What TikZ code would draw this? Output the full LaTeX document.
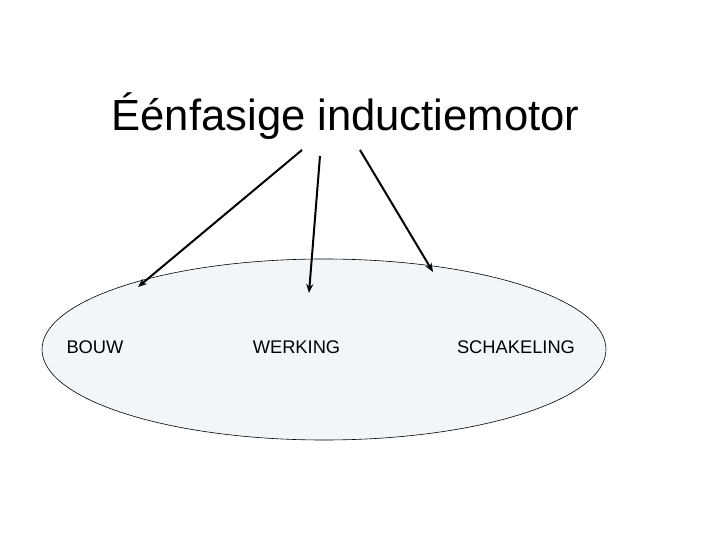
\documentclass[tikz,border=0pt]{standalone}
\usepackage{fontspec}
\setmainfont{Liberation Sans}
\usetikzlibrary{shapes.geometric,arrows.meta}
\definecolor{ellfill}{HTML}{F1F6FA}
\begin{document}
\begin{tikzpicture}[x=1pt,y=-1pt,
  conn/.style={line width=2pt,-{Stealth[length=9pt,width=7pt]}},
  lbl/.style={font=\fontsize{18.3}{21}\selectfont,inner sep=0pt,anchor=base}]
\useasboundingbox (0,0) rectangle (720,540);
\node[ellipse,draw=black,line width=0.6pt,fill=ellfill,minimum width=564pt,minimum height=181pt,inner sep=0pt] (ell) at (324,349.5) {};
\node[font=\fontsize{43.6}{50}\selectfont,inner sep=0pt,anchor=base] (title) at (345.5,131) {Éénfasige inductiemotor};
\node[lbl] (bouw) at (95,353) {BOUW};
\node[lbl] (werking) at (296.5,353) {WERKING};
\node[lbl] (schak) at (516,353) {SCHAKELING};
\coordinate (s1) at (302,150);
\coordinate (e1) at (138,287);
\coordinate (s2) at (320,156);
\coordinate (e2) at (309,293);
\coordinate (s3) at (360,150);
\coordinate (e3) at (433,272);
\draw[conn] (s1) -- (e1);
\draw[conn] (s2) -- (e2);
\draw[conn] (s3) -- (e3);
\end{tikzpicture}
\end{document}
